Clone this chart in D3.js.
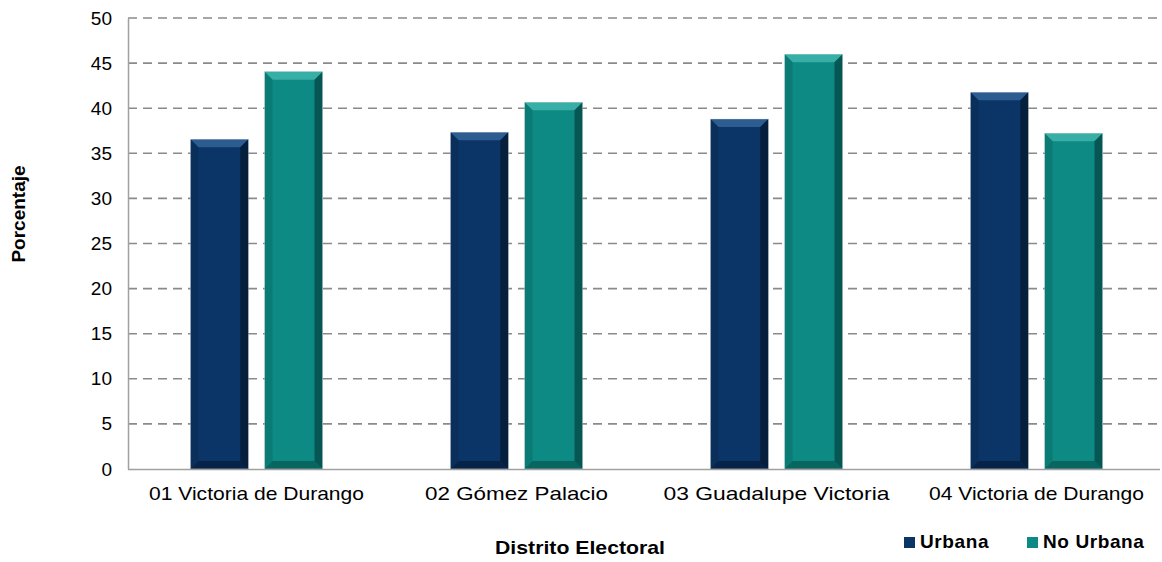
<!DOCTYPE html>
<html><head><meta charset="utf-8">
<script src="https://cdn.jsdelivr.net/npm/d3@7"></script>
<style>body{margin:0;background:#fff}svg{display:block;font-family:Arial,"Liberation Sans",sans-serif}</style>
</head><body><svg id="c" width="1162" height="562"></svg>
<script>
const categories = ["01 Victoria de Durango","02 Gómez Palacio","03 Guadalupe Victoria","04 Victoria de Durango"];
const seriesNames = ["Urbana","No Urbana"];
const urbana = [36.55, 37.33, 38.8, 41.76];
const noUrbana = [44.05, 40.65, 45.98, 37.22];
const yTicks = [0,5,10,15,20,25,30,35,40,45,50];
const colors = ["#0b3566","#0d8a83"];
const lightC = ["#3a6aa0","#46bab2"];
const darkC = ["#020d1c","#022e2b"];

const svg = d3.select("#c");
const m = {l:128, t:18, r:1160, b:469};
const x = d3.scaleBand().domain(categories).range([126.5, 1166.5]).paddingInner(0).paddingOuter(0);
const bwTot = x.bandwidth();
const x1 = d3.scaleBand().domain(seriesNames).range([bwTot/2-66, bwTot/2+66]).paddingInner(0.22).paddingOuter(0);
const y = d3.scaleLinear().domain([0,50]).range([m.b, m.t]);

// gridlines
svg.append("g").selectAll("line").data(yTicks.filter(d=>d>0)).join("line")
  .attr("x1", m.l).attr("x2", m.r).attr("y1", d=>y(d)).attr("y2", d=>y(d))
  .attr("stroke","#8a8a8a").attr("stroke-width",1.6).attr("stroke-dasharray","9,6");

// y axis
const ya = svg.append("g").attr("transform",`translate(${m.l},0)`).call(d3.axisLeft(y).tickValues(yTicks).tickSize(0).tickPadding(16));
ya.select(".domain").attr("stroke","#a0a0a0").attr("stroke-width",1.5);
ya.selectAll("text").attr("font-size",19).attr("fill","#000").attr("font-family","Arial, Liberation Sans, sans-serif");

// bars
const data = [];
categories.forEach((c,i)=>{ data.push({c, s:0, v:urbana[i]}); data.push({c, s:1, v:noUrbana[i]}); });
const bw = x1.bandwidth();
const g = svg.append("g");
data.forEach(d=>{
  const x0 = x(d.c) + x1(seriesNames[d.s]);
  const y0 = y(d.v), y1 = y(0);
  const b = 8, h = y1 - y0;
  const bar = g.append("g");
  bar.append("rect").attr("x",x0).attr("y",y0).attr("width",bw).attr("height",h).attr("fill",colors[d.s]);
  bar.append("polygon").attr("points",`${x0},${y0} ${x0+bw},${y0} ${x0+bw-b},${y0+b} ${x0+b},${y0+b}`).attr("fill",lightC[d.s]).attr("opacity",0.75);
  bar.append("polygon").attr("points",`${x0+bw},${y0} ${x0+bw},${y1} ${x0+bw-b},${y1-b} ${x0+bw-b},${y0+b}`).attr("fill",darkC[d.s]).attr("opacity",0.55);
  bar.append("polygon").attr("points",`${x0},${y0} ${x0+b},${y0+b} ${x0+b},${y1-b} ${x0},${y1}`).attr("fill",darkC[d.s]).attr("opacity",0.15);
  bar.append("polygon").attr("points",`${x0},${y1} ${x0+b},${y1-b} ${x0+bw-b},${y1-b} ${x0+bw},${y1}`).attr("fill",darkC[d.s]).attr("opacity",0.4);
  bar.append("rect").attr("x",x0).attr("y",y0).attr("width",bw).attr("height",h).attr("fill","none").attr("stroke","#c8d0d8").attr("stroke-width",0.6).attr("opacity",0.6);
});

// x axis
const xa = svg.append("g").attr("transform",`translate(0,${m.b})`).call(d3.axisBottom(x).tickSize(0).tickPadding(18));
xa.select(".domain").attr("d",`M${m.l},0.5H${m.r}`).attr("stroke","#a0a0a0").attr("stroke-width",1.5);
xa.selectAll("text").attr("font-size",19).attr("fill","#000").attr("font-family","Arial, Liberation Sans, sans-serif")
  .attr("textLength",215).attr("lengthAdjust","spacingAndGlyphs");
xa.selectAll(".tick").filter((d,i)=>i===1).select("text").attr("textLength",183);
xa.selectAll(".tick").filter((d,i)=>i===2).select("text").attr("textLength",226);

// axis titles
svg.append("text").attr("x",580).attr("y",554).attr("text-anchor","middle").attr("font-weight","bold").attr("font-size",19).attr("textLength",170).attr("lengthAdjust","spacingAndGlyphs").text("Distrito Electoral");
svg.append("text").attr("transform","translate(25,214) rotate(-90)").attr("text-anchor","middle").attr("font-weight","bold").attr("font-size",19).text("Porcentaje");

// legend
const leg = svg.append("g");
const lx = [904, 1027];
seriesNames.forEach((s,i)=>{
  leg.append("rect").attr("x",lx[i]).attr("y",537).attr("width",11).attr("height",11).attr("fill",colors[i]);
  leg.append("text").attr("x",lx[i]+16).attr("y",548).attr("font-weight","bold").attr("font-size",19).attr("letter-spacing",0.6).text(s);
});
</script></body></html>
